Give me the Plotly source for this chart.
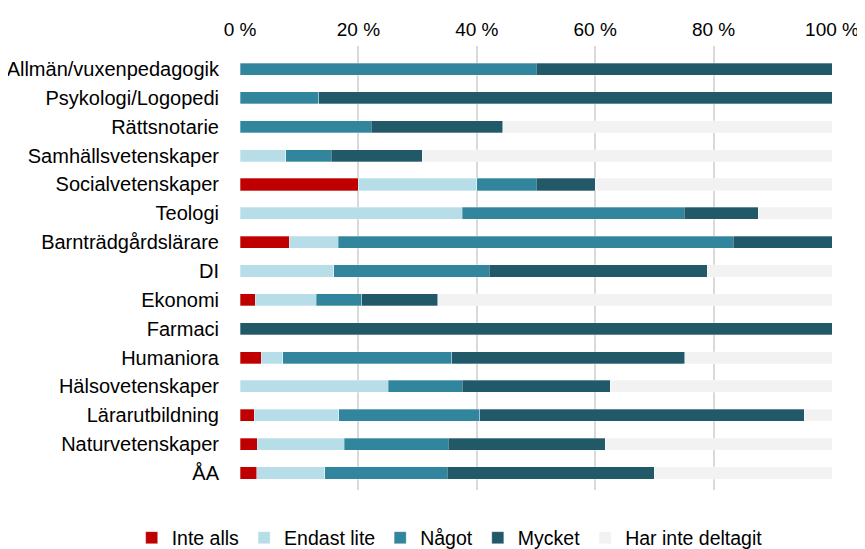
import plotly.graph_objects as go

categories = ["Allmän/vuxenpedagogik", "Psykologi/Logopedi", "Rättsnotarie", "Samhällsvetenskaper",
              "Socialvetenskaper", "Teologi", "Barnträdgårdslärare", "DI", "Ekonomi", "Farmaci",
              "Humaniora", "Hälsovetenskaper", "Lärarutbildning", "Naturvetenskaper", "ÅA"]

inte_alls = [0, 0, 0, 0, 20, 0, 8.3, 0, 2.6, 0, 3.6, 0, 2.4, 2.9, 2.8]
endast_lite = [0, 0, 0, 7.7, 20, 37.5, 8.3, 15.8, 10.3, 0, 3.6, 25, 14.3, 14.7, 11.5]
nagot = [50, 13.3, 22.2, 7.7, 10, 37.5, 66.7, 26.3, 7.7, 0, 28.6, 12.5, 23.8, 17.6, 20.7]
mycket = [50, 86.7, 22.2, 15.4, 10, 12.5, 16.7, 36.8, 12.8, 100, 39.3, 25, 54.8, 26.5, 35]
ej_deltagit = [0, 0, 55.6, 69.2, 40, 12.5, 0, 21.1, 66.7, 0, 25, 37.5, 4.7, 38.3, 30]

series_names = ["Inte alls", "Endast lite", "Något", "Mycket", "Har inte deltagit"]
series_values = [inte_alls, endast_lite, nagot, mycket, ej_deltagit]
colors = ["#C00000", "#B7DEE8", "#31859C", "#215968", "#F2F2F2"]

tick_vals = [0, 20, 40, 60, 80, 100]
tick_text = ["0 %", "20 %", "40 %", "60 %", "80 %", "100 %"]

FONT = "Liberation Sans, Arial, sans-serif"

fig = go.Figure()
for name, vals, col in zip(series_names, series_values, colors):
    fig.add_trace(go.Bar(
        y=categories, x=vals, name=name, orientation="h",
        marker=dict(color=col, line=dict(color="rgba(255,255,255,0.5)", width=0.6)),
        hoverinfo="x+y+name",
    ))

fig.update_layout(
    barmode="stack",
    bargap=0.58,
    width=857, height=541,
    margin=dict(l=232, r=33, t=38, b=59, autoexpand=False),
    plot_bgcolor="white", paper_bgcolor="white",
    font=dict(family=FONT, size=20, color="#000000"),
    xaxis=dict(
        side="top", range=[0, 100], tickvals=tick_vals, ticktext=tick_text,
        showgrid=True, gridcolor="#D9D9D9", gridwidth=1.5, zeroline=False,
        showline=False, ticks="", ticklabelstandoff=5, automargin=False,
        tickfont=dict(family=FONT, size=19),
    ),
    yaxis=dict(
        categoryorder="array", categoryarray=categories,
        range=[14.59, -0.8], showgrid=False, zeroline=False, showline=False,
        ticks="", ticklabelstandoff=20, automargin=False,
        tickfont=dict(family=FONT, size=20),
    ),
    legend=dict(
        orientation="h", xref="paper", yref="paper",
        x=-0.183, xanchor="left", y=-0.108, yanchor="middle",
        font=dict(family=FONT, size=19.5), itemwidth=30, tracegroupgap=0,
        traceorder="normal", bgcolor="rgba(0,0,0,0)",
    ),
)

fig.write_html("out.html")
